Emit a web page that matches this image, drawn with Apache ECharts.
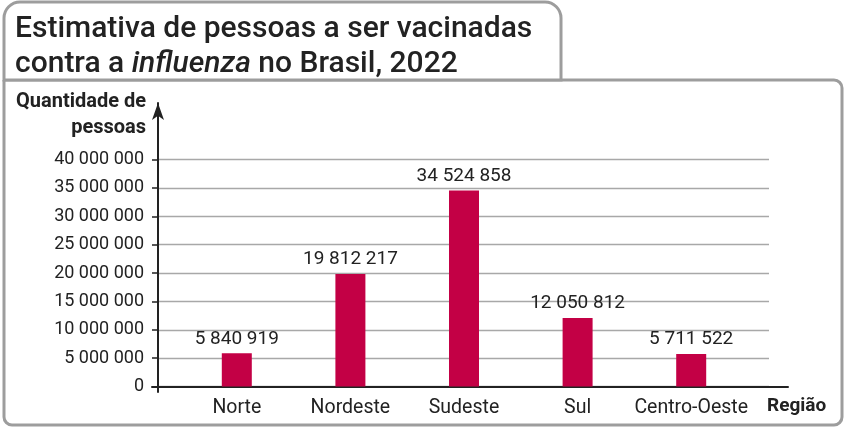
<!DOCTYPE html>
<html>
<head>
<meta charset="utf-8">
<script src="https://cdn.jsdelivr.net/npm/echarts@6/dist/echarts.min.js"></script>
<style>
  html, body { margin: 0; padding: 0; background: #fff; }
  #chart { width: 846px; height: 429px; }
</style>
</head>
<body>
<div id="chart"></div>
<script>
var regioes = ['Norte', 'Nordeste', 'Sudeste', 'Sul', 'Centro-Oeste'];
var pessoas = [5840919, 19812217, 34524858, 12050812, 5711522];
var yTicks = [0, 5000000, 10000000, 15000000, 20000000, 25000000, 30000000, 35000000, 40000000];

var FONT = 'Roboto';
var INK = '#222';

// 34524858 -> "34 524 858"
function fmt(v) {
	return String(v).replace(/\B(?=(\d{3})+(?!\d))/g, ' ');
}

var chart = echarts.init(document.getElementById('chart'));

var yMin = yTicks[0];
var yMax = yTicks[yTicks.length - 1];
var yStep = yTicks[1] - yTicks[0];

var option = {
	backgroundColor: '#fff',
	animation: false,
	graphic: [
		{
			type: 'rect', z: 0,
			shape: { x: 4, y: 80, width: 838, height: 345, r: [0, 8, 8, 8] },
			style: { fill: '#fff', stroke: '#9d9d9d', lineWidth: 3 }
		},
		{
			type: 'rect', z: 0,
			shape: { x: 4, y: 2, width: 557, height: 78, r: [16, 16, 0, 0] },
			style: { fill: '#fff', stroke: '#9d9d9d', lineWidth: 3 }
		},
		{
			type: 'text', right: 846 - 146, top: 89, z: 5,
			style: {
				text: 'Quantidade de\npessoas', textAlign: 'right',
				font: 'bold 20px ' + FONT, fill: INK, lineHeight: 26
			}
		},
		{
			type: 'text', left: 767, top: 397, z: 5,
			style: { text: 'Região', font: 'bold 19px ' + FONT, fill: INK }
		}
	],
	title: {
		left: 10, top: 7,
		text: '{n|Estimativa de pessoas a ser vacinadas}\n{n|contra a }{i|influenza}{n| no Brasil, 2022}',
		textStyle: {
			rich: {
				n: { fontFamily: FONT, fontSize: 30, fontWeight: 500, color: INK, lineHeight: 35 },
				i: { fontFamily: FONT, fontSize: 30, fontWeight: 500, color: INK, lineHeight: 35, fontStyle: 'italic' }
			}
		}
	},
	grid: [
		{ left: 158, right: 77, top: 159.5, bottom: 42.5 },
		{ left: 180, right: 98, top: 159.5, bottom: 42.5 },
		{ left: 158, right: 77, top: 103, bottom: 37 },
		{ left: 152, right: 58, top: 159.5, bottom: 42.5 }
	],
	xAxis: [
		{ gridIndex: 0, type: 'value', show: false },
		{
			gridIndex: 1, type: 'category', data: regioes,
			axisLine: { show: false }, axisTick: { show: false },
			axisLabel: { interval: 0, margin: 12, fontFamily: FONT, fontSize: 19.5, color: INK }
		},
		{ gridIndex: 2, type: 'value', show: false },
		{
			gridIndex: 3, type: 'value', min: 0, max: 1,
			axisLine: { show: true, lineStyle: { color: INK, width: 2 } },
			axisTick: { show: false }, axisLabel: { show: false }, splitLine: { show: false }
		}
	],
	yAxis: [
		{
			gridIndex: 0, type: 'value', min: yMin, max: yMax, interval: yStep,
			axisLine: { show: false },
			axisTick: { show: true, length: 6, lineStyle: { color: INK, width: 1.5 } },
			splitLine: { lineStyle: { color: '#a8a8a8', width: 1.3 } },
			axisLabel: { margin: 14, fontFamily: FONT, fontSize: 18, color: INK, formatter: fmt }
		},
		{ gridIndex: 1, type: 'value', min: yMin, max: yMax, show: false },
		{
			gridIndex: 2, type: 'value', min: 0, max: 1,
			axisLine: {
				show: true, symbol: ['none', 'arrow'], symbolSize: [9, 17],
				lineStyle: { color: INK, width: 2 }
			},
			axisTick: { show: false }, axisLabel: { show: false }, splitLine: { show: false }
		},
		{ gridIndex: 3, type: 'value', show: false }
	],
	series: [
		{
			type: 'bar', xAxisIndex: 1, yAxisIndex: 1,
			data: pessoas, barWidth: 30, z: 3,
			itemStyle: { color: '#c30045' },
			label: {
				show: true, position: 'top', distance: 5,
				fontFamily: FONT, fontSize: 19, color: INK,
				formatter: function (p) { return fmt(p.value); }
			}
		}
	]
};

chart.setOption(option);
</script>
</body>
</html>
